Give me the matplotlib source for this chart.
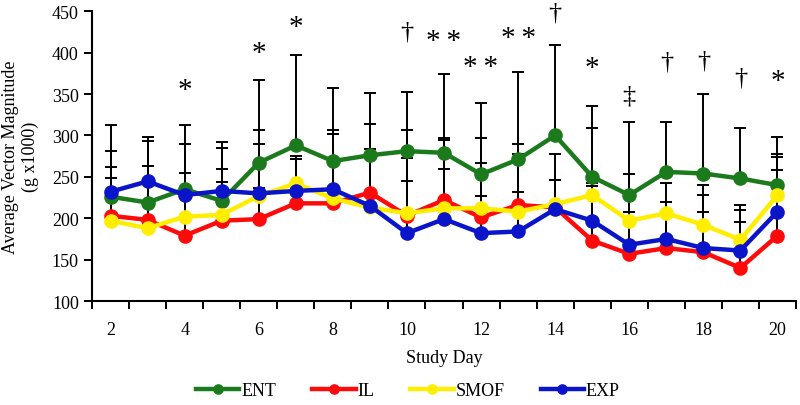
import matplotlib.pyplot as plt
import numpy as np

plt.rcParams['font.family'] = ['Liberation Serif', 'DejaVu Serif']

days = list(range(2, 21))

ent = [226, 219, 235, 221, 267, 288, 269, 276, 281, 279, 253, 271, 300, 250, 228, 256, 254, 248, 240]
il = [203, 198, 179, 197, 199, 218, 218, 231, 203, 222, 201, 216, 213, 173, 157, 164, 159, 140, 179]
smof = [197, 188, 202, 204, 227, 242, 224, 213, 206, 212, 212, 208, 217, 228, 197, 206, 192, 174, 228]
exp_ = [232, 244.5, 228, 233, 230, 233, 235, 215, 182, 199, 182, 184, 211, 197, 168, 175, 164, 161, 208]

# upper error (SD) per group
ent_sd = [87, 79, 78, 71, 100, 109, 88, 75, 71, 95, 86, 106, 109, 85, 88, 60, 96, 60.5, 58]
il_sd = [59, 65, 76, 47, 37, 53, 84, 83, 70, 75, 66, 74, 33, 65.5, 51, 56, 49, 55, 79.5]
smof_sd = [52, 75, 53, 56, 63, 33, 78, 70, 101, 83, 85, 69, 60, 80.5, 56, 37, 48.5, 42, 49]
exp_sd = [49, 48.5, 62, 52, 77, 38, 71, 68, 63, 61, 45, 48, 35, 45, 40, 45, 64, 49, 65.5]

# significance marks: day, symbol, y position
sig_days = [4, 6, 7, 10, 11, 12, 13, 14, 15, 16, 17, 18, 19, 20]
sig_marks = ['*', '*', '*', '†', '**', '**', '**', '†', '*', '‡', '†', '†', '†', '*']
sig_y = [355, 400, 431, 425, 414, 383, 418, 449, 381, 348, 389, 390, 370, 366]

series = [
    ('ENT', ent, ent_sd, '#1b7a1b'),
    ('IL', il, il_sd, '#ff0a0a'),
    ('SMOF', smof, smof_sd, '#ffee00'),
    ('EXP', exp_, exp_sd, '#0a14c8'),
]

fig = plt.figure(figsize=(8, 4.06), dpi=100)
ax = fig.add_axes([0.115, 0.256, 0.88, 0.714])

for name, vals, sd, col in series:
    ax.errorbar(days, vals, yerr=[np.zeros(len(sd)), sd], fmt='none',
                ecolor='black', elinewidth=1.4, capsize=4, capthick=1.4, zorder=1)

for i, (name, vals, sd, col) in enumerate(series):
    ax.plot(days, vals, color=col, lw=3.2, marker='o', ms=9.5, label=name, zorder=3 + i)

for d, m, y in zip(sig_days, sig_marks, sig_y):
    if m.startswith('*'):
        # a little air between the two stars
        ax.text(d, y, m.replace('**', '*\u2009*'), ha='center', va='center', fontsize=21)
    else:
        ax.text(d, y, m, ha='center', va='center', fontsize=19)

ax.set_xlim(1.5, 20.5)
ax.set_ylim(100, 450)
ax.set_yticks(range(100, 451, 50))
ax.set_xticks(np.arange(1.5, 20.6, 1))
ax.set_xticklabels([])
ax.set_xticks(range(2, 21, 2), minor=True)
ax.set_xticklabels([str(d) for d in range(2, 21, 2)], minor=True)
ax.tick_params(axis='x', which='minor', length=0, pad=14, labelsize=13)
ax.tick_params(axis='x', which='major', length=6, width=1.4, direction='out')
ax.tick_params(axis='y', length=6, width=1.4, labelsize=13)

for s in ['top', 'right']:
    ax.spines[s].set_visible(False)
for s in ['left', 'bottom']:
    ax.spines[s].set_linewidth(1.5)

ax.set_ylabel('Average Vector Magnitude\n(g x1000)', fontsize=13, labelpad=9)
ax.set_xlabel('Study Day', fontsize=13, labelpad=8)

fig.legend(loc='center', bbox_to_anchor=(0.51, 0.035), ncol=4, frameon=False,
           fontsize=13, handlelength=2.4, columnspacing=2.0, handletextpad=0.1,
           markerscale=0.7)

fig.savefig('out.png', dpi=100)
